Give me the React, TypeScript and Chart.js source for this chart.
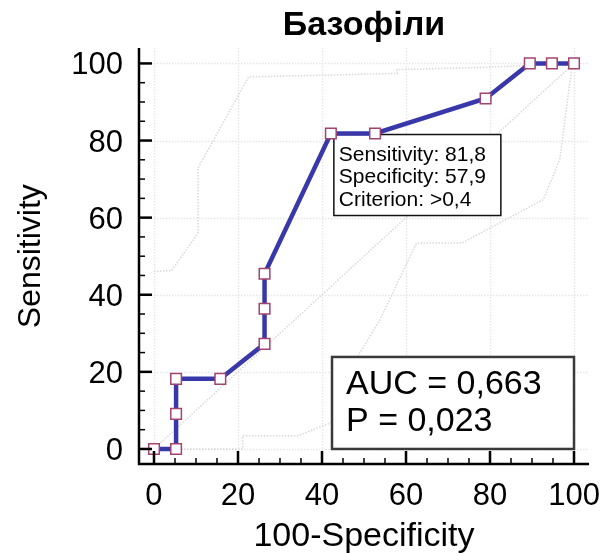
import React, { useEffect, useRef } from "react";
import { Chart, registerables } from "chart.js";

Chart.register(...registerables);

// ---- data ----
const chartTitle = "Базофіли";
const xAxisTitle = "100-Specificity";
const yAxisTitle = "Sensitivity";
const majorTicks = [0, 20, 40, 60, 80, 100];
const minorTicks = [5, 10, 15, 25, 30, 35, 45, 50, 55, 65, 70, 75, 85, 90, 95];

const rocX = [0, 5.26, 5.26, 5.26, 15.79, 26.32, 26.32, 26.32, 42.11, 52.63, 78.95, 89.47, 94.74, 100];
const rocY = [0, 0, 9.09, 18.18, 18.18, 27.27, 36.36, 45.45, 81.82, 81.82, 90.91, 100, 100, 100];

const upperX = [0, 4.2, 10.5, 10.5, 22.5, 57.9, 57.9, 78.9, 100];
const upperY = [46, 46.3, 56, 72.9, 96.5, 97.4, 98.4, 99, 100];

const lowerX = [0, 21.1, 21.1, 34.2, 42.1, 47.4, 53.8, 62.5, 73.3, 92.7, 96.6, 99.4, 100];
const lowerY = [0, 0, 3.4, 3.4, 6.8, 22, 33.5, 53.4, 53.4, 64.7, 75, 98.4, 100];

const diagX = [0, 100];
const diagY = [0, 100];

const statLines = ["Sensitivity: 81,8", "Specificity: 57,9", "Criterion: >0,4"];
const statAnchor = [42.11, 81.82];
const aucLines = ["AUC = 0,663", "P = 0,023"];

const FONT = '"Liberation Sans", Arial, Helvetica, sans-serif';

const toPts = (xs: number[], ys: number[]) => xs.map((x, i) => ({ x, y: ys[i] }));

const decorPlugin = {
  id: "rocDecor",
  beforeDatasetsDraw(chart: any) {
    const { ctx, chartArea, scales } = chart;
    const xs = scales.x, ys = scales.y;
    ctx.save();
    ctx.strokeStyle = "#e6e6e6";
    ctx.lineWidth = 1.5;
    ctx.setLineDash([1.5, 1.5]);
    for (const v of majorTicks) {
      const px = Math.round(xs.getPixelForValue(v)) + 0.5;
      ctx.beginPath();
      ctx.moveTo(px, chartArea.top);
      ctx.lineTo(px, chartArea.bottom);
      ctx.stroke();
      const py = Math.round(ys.getPixelForValue(v)) + 0.5;
      ctx.beginPath();
      ctx.moveTo(chartArea.left, py);
      ctx.lineTo(chartArea.right, py);
      ctx.stroke();
    }
    ctx.restore();
  },
  beforeDatasetDraw(chart: any, args: any) {
    if (args.index !== 0) return;
    const { ctx, scales } = chart;
    const xs = scales.x, ys = scales.y;
    ctx.save();
    // AUC box anchored at bottom-right (x=100, y=0)
    const right = xs.getPixelForValue(100);
    const bottom = ys.getPixelForValue(0);
    const bw = 242, bh = 92;
    ctx.fillStyle = "#ffffff";
    ctx.fillRect(right - bw, bottom - bh, bw, bh);
    ctx.strokeStyle = "#3a3a3a";
    ctx.lineWidth = 2.5;
    ctx.strokeRect(right - bw, bottom - bh, bw, bh);
    ctx.fillStyle = "#000";
    ctx.font = `34px ${FONT}`;
    ctx.textAlign = "left";
    ctx.textBaseline = "alphabetic";
    aucLines.forEach((t, i) => ctx.fillText(t, right - bw + 14, bottom - bh + 37 + i * 37));

    // stats box anchored at the optimal point
    const sx = xs.getPixelForValue(statAnchor[0]) + 3;
    const sy = ys.getPixelForValue(statAnchor[1]) + 1;
    const sw = 167, sh = 81;
    ctx.fillStyle = "#ffffff";
    ctx.fillRect(sx, sy, sw, sh);
    ctx.strokeStyle = "#111";
    ctx.lineWidth = 1.5;
    ctx.strokeRect(sx, sy, sw, sh);
    ctx.fillStyle = "#000";
    ctx.font = `21px ${FONT}`;
    statLines.forEach((t, i) => ctx.fillText(t, sx + 5, sy + 26 + i * 22.5));
    ctx.restore();
  },
  afterDraw(chart: any) {
    const { ctx, chartArea, scales } = chart;
    const xs = scales.x, ys = scales.y;
    const L = chartArea.left, B = chartArea.bottom;
    ctx.save();
    ctx.strokeStyle = "#000";
    ctx.lineWidth = 2.5;
    ctx.beginPath();
    ctx.moveTo(L, chartArea.top);
    ctx.lineTo(L, B);
    ctx.lineTo(chartArea.right, B);
    ctx.stroke();

    // ticks (inward)
    const drawTick = (v: number, len: number, w: number) => {
      ctx.lineWidth = w;
      const px = xs.getPixelForValue(v);
      ctx.beginPath();
      ctx.moveTo(px, B);
      ctx.lineTo(px, B - len);
      ctx.stroke();
      const py = ys.getPixelForValue(v);
      ctx.beginPath();
      ctx.moveTo(L, py);
      ctx.lineTo(L + len, py);
      ctx.stroke();
    };
    minorTicks.forEach((v) => drawTick(v, 6, 1.5));
    majorTicks.forEach((v) => drawTick(v, 13, 2.5));

    // tick labels
    ctx.fillStyle = "#000";
    ctx.font = `31px ${FONT}`;
    ctx.textBaseline = "alphabetic";
    ctx.textAlign = "center";
    majorTicks.forEach((v) => ctx.fillText(String(v), xs.getPixelForValue(v), B + 41));
    ctx.textAlign = "right";
    majorTicks.forEach((v) => ctx.fillText(String(v), L - 16, ys.getPixelForValue(v) + 11));

    // axis titles
    const cx = (xs.getPixelForValue(0) + xs.getPixelForValue(100)) / 2;
    ctx.textAlign = "center";
    ctx.font = `34px ${FONT}`;
    ctx.fillText(xAxisTitle, cx, 546);
    const cy = (ys.getPixelForValue(0) + ys.getPixelForValue(100)) / 2;
    ctx.save();
    ctx.translate(40, cy);
    ctx.rotate(-Math.PI / 2);
    ctx.font = `32px ${FONT}`;
    ctx.fillText(yAxisTitle, 0, 0);
    ctx.restore();

    // title
    ctx.font = `bold 34px ${FONT}`;
    ctx.fillText(chartTitle, cx, 35);
    ctx.restore();
  },
};

export default function App() {
  const ref = useRef<HTMLCanvasElement | null>(null);
  useEffect(() => {
    document.body.style.margin = "0";
    const canvas = ref.current;
    if (!canvas) return;
    const dotted = {
      showLine: true,
      borderColor: "#d8d8d8",
      borderWidth: 1.5,
      borderDash: [1.5, 1.5],
      pointRadius: 0,
      fill: false,
      tension: 0,
    };
    const chart = new Chart(canvas, {
      type: "scatter",
      data: {
        datasets: [
          {
            label: "ROC",
            data: toPts(rocX, rocY),
            showLine: true,
            borderColor: "#3838aa",
            borderWidth: 4.5,
            pointStyle: "rect",
            pointRadius: 7.5,
            pointBackgroundColor: "#ffffff",
            pointBorderColor: "#a2446f",
            pointBorderWidth: 1.5,
            tension: 0,
            clip: false,
          } as any,
          { label: "diag", data: toPts(diagX, diagY), ...dotted } as any,
          { label: "upper", data: toPts(upperX, upperY), ...dotted } as any,
          { label: "lower", data: toPts(lowerX, lowerY), ...dotted } as any,
        ],
      },
      options: {
        animation: false,
        responsive: false,
        maintainAspectRatio: false,
        devicePixelRatio: 1,
        layout: { padding: { left: 139, top: 48, right: 16, bottom: 89 } },
        scales: {
          x: { type: "linear", min: -3.57, max: 103.57, display: false },
          y: { type: "linear", min: -3.9, max: 104, display: false },
        },
        plugins: {
          legend: { display: false },
          tooltip: { enabled: false },
          title: { display: false },
        },
        events: [],
      },
      plugins: [decorPlugin],
    });
    return () => chart.destroy();
  }, []);
  return (
    <div style={{ width: 605, height: 553, background: "#fff" }}>
      <canvas ref={ref} width={605} height={553} style={{ display: "block" }} />
    </div>
  );
}
